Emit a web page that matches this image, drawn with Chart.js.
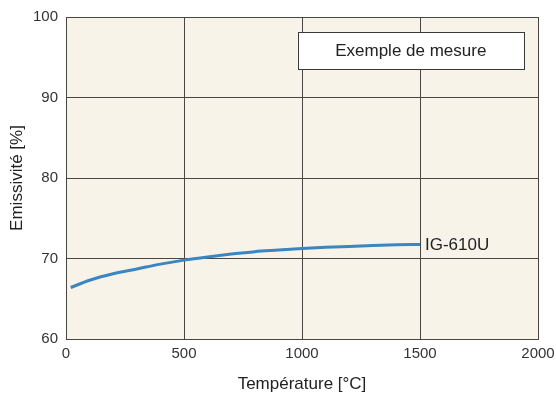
<!DOCTYPE html>
<html><head><meta charset="utf-8">
<script src="https://cdn.jsdelivr.net/npm/chart.js@4/dist/chart.umd.min.js"></script>
<style>html,body{margin:0;padding:0;background:#fff}#wrap{width:556px;height:400px}</style>
</head><body><div id="wrap"><canvas id="c" width="556" height="400"></canvas></div>
<script>
const temperatures = [20,100,200,300,400,500,600,700,800,900,1000,1100,1200,1300,1400,1500];
const emissivity = [66.4,67.3,68.1,68.7,69.3,69.8,70.2,70.55,70.85,71.05,71.25,71.4,71.5,71.6,71.7,71.75];
const seriesName = 'IG-610U';
const boxLabel = 'Exemple de mesure';
const xTicks = [0,500,1000,1500,2000];
const yTicks = [60,70,80,90,100];
const xTitle = 'Température [°C]';
const yTitle = 'Emissivité [%]';

const FONT = "'Liberation Sans', Arial, Helvetica, sans-serif";
const gridCol = '#4a4541';

const decor = {
  id: 'decor',
  beforeDraw(chart) {
    const {ctx, chartArea: a} = chart;
    ctx.save();
    ctx.fillStyle = '#f8f3e8';
    ctx.fillRect(a.left, a.top, a.right - a.left, a.bottom - a.top);
    ctx.restore();
  },
  afterDraw(chart) {
    const {ctx, chartArea: a, scales} = chart;
    ctx.save();
    const bx = scales.x.getPixelForValue(982), by = scales.y.getPixelForValue(98.1);
    const bw = scales.x.getPixelForValue(1940) - bx, bh = scales.y.getPixelForValue(93.5) - by;
    ctx.fillStyle = '#ffffff';
    ctx.fillRect(bx, by, bw, bh);
    ctx.strokeStyle = '#3a3a3a';
    ctx.lineWidth = 1;
    ctx.strokeRect(Math.round(bx)+0.5, Math.round(by)+0.5, Math.round(bw), Math.round(bh));
    ctx.fillStyle = '#222';
    ctx.font = '17px ' + FONT;
    ctx.textAlign = 'center';
    ctx.textBaseline = 'middle';
    ctx.fillText(boxLabel, bx + bw/2, by + bh/2 + 1);
    const li = temperatures.length - 1;
    const lx = scales.x.getPixelForValue(temperatures[li]);
    const ly = scales.y.getPixelForValue(emissivity[li]);
    ctx.textAlign = 'left';
    ctx.fillText(seriesName, lx + 5, ly + 1);
    ctx.restore();
  }
};

new Chart(document.getElementById('c'), {
  type: 'line',
  data: {
    datasets: [{
      label: seriesName,
      data: temperatures.map((t, i) => ({x: t, y: emissivity[i]})),
      borderColor: '#3a86c0',
      borderWidth: 3,
      pointRadius: 0,
      cubicInterpolationMode: 'monotone',
      fill: false
    }]
  },
  options: {
    responsive: false,
    animation: false,
    devicePixelRatio: 1,
    layout: {padding: {left: 0, right: 18, top: 16, bottom: 0}},
    plugins: {legend: {display: false}, tooltip: {enabled: false}},
    scales: {
      x: {
        type: 'linear', min: 0, max: 2000,
        afterBuildTicks: s => { s.ticks = xTicks.map(v => ({value: v})); },
        afterFit: s => { s.height = 61; s.paddingRight = 0; s.paddingLeft = 0; },
        grid: {color: gridCol, lineWidth: 1, drawTicks: false},
        border: {color: gridCol, width: 1},
        ticks: {font: {family: FONT, size: 15}, color: '#333', padding: 6, maxRotation: 0, callback: v => String(v)},
        title: {display: true, text: xTitle, font: {family: FONT, size: 17}, color: '#222', padding: {top: 2, bottom: 5}}
      },
      y: {
        type: 'linear', min: 60, max: 100,
        afterBuildTicks: s => { s.ticks = yTicks.map(v => ({value: v})); },
        afterFit: s => { s.width = 66; },
        grid: {color: gridCol, lineWidth: 1, drawTicks: false},
        border: {color: gridCol, width: 1},
        ticks: {font: {family: FONT, size: 15}, color: '#333', padding: 8, callback: v => String(v)},
        title: {display: true, text: yTitle, font: {family: FONT, size: 17}, color: '#222', padding: {top: 7, bottom: 2}}
      }
    }
  },
  plugins: [decor]
});
</script></body></html>
